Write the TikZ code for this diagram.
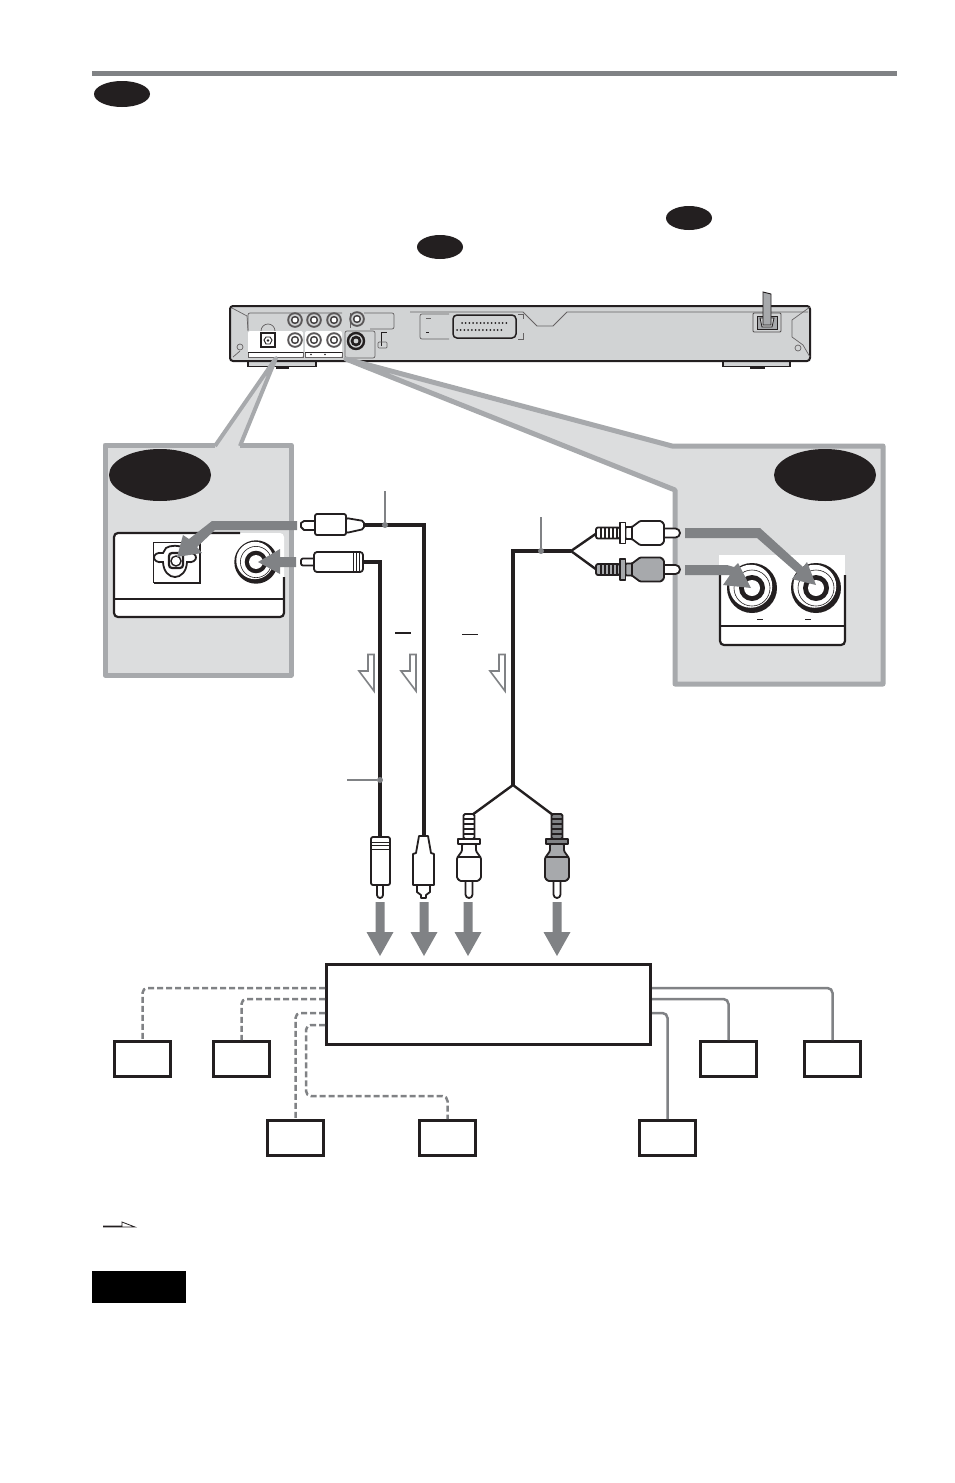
\documentclass[tikz,border=0pt]{standalone}
\definecolor{arr}{HTML}{808285}
\definecolor{lgr}{HTML}{DCDDDE}
\definecolor{bord}{HTML}{A7A9AC}
\definecolor{dev}{HTML}{D1D3D4}
\definecolor{ink}{HTML}{231F20}
\usetikzlibrary{shapes.geometric}
\tikzset{
 ibox/.style={draw=ink,line width=2.6pt,fill=white,inner sep=0pt,minimum width=56pt,minimum height=35pt},
 mainbox/.style={draw=ink,line width=2.8pt,fill=white,inner sep=0pt,minimum width=324pt,minimum height=80pt},
 pill/.style={ellipse,fill=ink,inner sep=0pt},
 dashcable/.style={draw=arr,line width=2.5pt,dash pattern=on 6pt off 3pt,rounded corners=5pt},
 solidcable/.style={draw=arr,line width=2.5pt,rounded corners=5pt},
 cable/.style={draw=ink,line width=3.6pt,line join=miter},
 thincable/.style={draw=ink,line width=2.4pt},
 plugline/.style={draw=ink,line width=1.8pt,line join=round},
 callout/.style={draw=arr,line width=1.1pt},
 cdot/.style={circle,fill=arr,inner sep=0pt,minimum size=6pt},
 bigarrow/.style={fill=arr,draw=none},
 hollow/.style={draw=arr,line width=1.6pt,fill=white,line join=miter},
}
% small device jack: centre x, y, ring colour
\newcommand{\devjack}[3]{%
 \fill[ink!75!white] (#1,#2) circle (7.8);
 \fill[#3] (#1,#2) circle (5.8);
 \fill[ink!85!white] (#1,#2) circle (4.2);
 \fill[white] (#1,#2) circle (2.4);
}
% large jack with heavy lower right rim
\newcommand{\bigjack}[3]{%
 \fill[ink] (#1,#2) circle (#3);
 \fill[white] (#1-0.05*#3,#2-0.07*#3) circle (0.86*#3);
 \draw[ink,line width=0.6pt] (#1,#2) circle (0.72*#3);
 \fill[ink] (#1,#2) circle (0.52*#3);
 \fill[white] (#1,#2) circle (0.32*#3);
}
\newcommand{\downarrowbig}[1]{%
 \fill[bigarrow] (#1-4.5,902) -- (#1+4.5,902) -- (#1+4.5,932) -- (#1+13.5,932) -- (#1,956) -- (#1-13.5,932) -- (#1-4.5,932) -- cycle;
}
\newcommand{\hollowarrow}[1]{%
 \draw[hollow] (#1+2,654.5) -- (#1+8,654.5) -- (#1+8,691) -- (#1-7,671) -- (#1+2,671) -- cycle;
}
% vertical plug: centre, body fill, relief fill
\newcommand{\vplug}[3]{%
 \begin{scope}[shift={(#1,0)}]
 \draw[plugline,fill=#3,rounded corners=1.5pt] (-5.5,814) -- (5.5,814) -- (5.5,839) -- (-5.5,839) -- cycle;
 \foreach \yy in {819,824,829,834} \draw[plugline,line width=1.5pt] (-5.5,\yy) -- (5.5,\yy);
 \draw[plugline,fill=white] (-3.5,880) -- (-3.5,894.5) arc[start angle=180,end angle=0,radius=3.5] -- (3.5,880);
 \draw[plugline,fill=#2,rounded corners=1pt] (-7,844) -- (-7,851) -- (-12,858) -- (-12,878) -- (-9,881) -- (9,881) -- (12,878) -- (12,858) -- (7,851) -- (7,844) -- cycle;
 \draw[plugline] (-11,857) -- (11,857);
 \draw[plugline,fill=#3] (-11,839) rectangle (11,844);
 \end{scope}
}
% horizontal plug: centre y, body fill, relief fill
\newcommand{\hplug}[3]{%
 \begin{scope}[shift={(0,#1)}]
 \draw[plugline,fill=#3,rounded corners=2pt] (596,-5.5) rectangle (620,5.5);
 \foreach \xx in {601,605,609,613,617} \draw[plugline,line width=1.5pt] (\xx,-5.5) -- (\xx,5.5);
 \draw[plugline,fill=white] (662,-4.5) -- (675.5,-4.5) arc[start angle=-90,end angle=90,radius=4.5] -- (662,4.5) -- cycle;
 \draw[plugline,fill=#2,rounded corners=1pt] (625.5,-6) -- (632,-6) -- (640,-12) -- (661,-12) -- (664,-9) -- (664,9) -- (661,12) -- (640,12) -- (632,6) -- (625.5,6) -- cycle;
 \draw[plugline,line width=1.2pt] (632,-6) -- (632,6);
 \draw[plugline,fill=#3] (620,-10.5) rectangle (625.5,10.5);
 \end{scope}
}
\begin{document}
\begin{tikzpicture}[x=1pt,y=-1pt]
\useasboundingbox (0,0) rectangle (954,1483);
\fill[white] (0,0) rectangle (954,1483);

% header
\draw[arr,line width=5pt] (92,73) -- (897,73);
\node[pill,minimum width=56pt,minimum height=26pt] (p1) at (122,94) {};
\node[pill,minimum width=46pt,minimum height=24pt] (p2) at (689,218) {};
\node[pill,minimum width=46pt,minimum height=24pt] (p3) at (440,247) {};

% device
\draw[ink,line width=1.6pt,fill=dev] (248,360) -- (248,366.5) -- (316,366.5) -- (316,360);
\draw[ink,line width=1.6pt,fill=dev] (723,360) -- (723,366.5) -- (790,366.5) -- (790,360);
\draw[ink,line width=2.2pt] (276,367.5) -- (289,367.5);
\draw[ink,line width=2.2pt] (750,367.5) -- (765,367.5);
\draw[ink,line width=2pt,fill=dev,rounded corners=3pt] (230,306) rectangle (810,361);
\draw[ink!70!white,line width=0.7pt] (232,308) -- (247,316) -- (248,330);
\draw[ink!70!white,line width=0.7pt] (233,357) -- (240,351);
\draw[ink!70!white,line width=0.7pt] (240,347) circle (3);
\draw[ink!70!white,line width=0.7pt] (810,307) -- (792,320) -- (792,337) -- (803,345) -- (810,357);
\draw[ink!70!white,line width=0.7pt] (798,348) circle (3);
\draw[ink!70!white,line width=0.7pt,rounded corners=2pt] (342,313) -- (248,313) -- (248,331);
\draw[ink!70!white,line width=0.7pt,rounded corners=2pt] (364,313) -- (394,313) -- (394,329) -- (370,329);
\draw[ink!70!white,line width=0.7pt] (261,331) arc[start angle=180,end angle=360,radius=7];
\fill[white,rounded corners=2pt] (248,331) rectangle (303,357);
\fill[white,rounded corners=2pt] (305,331) rectangle (342,357);
\draw[ink!70!white,line width=0.7pt] (248,352) -- (248,357) -- (303,357) -- (303,352);
\draw[ink!70!white,line width=0.7pt] (305,352) -- (305,357) -- (342,357) -- (342,352);
\draw[ink,line width=0.8pt] (248,352) -- (303,352);
\draw[ink,line width=0.8pt] (305,352) -- (342,352);
\draw[ink!70!white,line width=0.7pt,rounded corners=2pt] (345,331) rectangle (375,358);
\draw[ink!70!white,line width=0.8pt] (350,313) -- (350,328);
\devjack{295}{320}{dev}
\devjack{314}{320}{dev}
\devjack{334}{320}{dev}
\devjack{357}{319}{dev}
\devjack{295}{340}{white}
\devjack{314}{340}{white}
\devjack{334}{340}{white}
\draw[ink,line width=1.1pt,fill=white] (261,333) rectangle (275,347);
\draw[ink,line width=0.9pt] (264,340) -- (266,337) -- (270,337) -- (272,340) -- (270,344) -- (266,344) -- cycle;
\fill[ink] (268,340.5) circle (1.3);
\fill[ink] (311,354.5) circle (0.8);
\fill[ink] (325,354.5) circle (0.8);
\draw[ink,line width=2.4pt,fill=dev] (356,341) circle (8);
\fill[ink] (356,341) circle (5.4);
\fill[dev] (356,341) circle (2.4);
\draw[ink,line width=1pt] (381,346) -- (381,332) -- (387,332);
\draw[ink!70!white,line width=0.7pt,rounded corners=1pt] (378,342) rectangle (387,348);
\draw[ink!70!white,line width=0.7pt,rounded corners=2pt] (449,314) -- (420,314) -- (420,339) -- (449,339);
\draw[ink!70!white,line width=0.7pt] (426,318) -- (431,318);
\draw[ink,line width=1pt] (426,332) -- (429,332);
\draw[ink!70!white,line width=0.7pt] (518,314) -- (523,314) -- (523,319);
\draw[ink!70!white,line width=0.7pt] (523,333) -- (523,339) -- (518,339);
\draw[ink,line width=1.5pt,fill=dev,rounded corners=4pt] (453,315) rectangle (516,338);
\foreach \i in {0,...,12} \fill[ink] (462+\i*3.7,323) circle (1);
\foreach \i in {0,...,12} \fill[ink] (457+\i*3.7,330) circle (1);
\draw[ink!70!white,line width=0.8pt] (410,312) -- (523,312) -- (537,326) -- (553,326) -- (567,312) -- (808,312);

% power socket and cord
\draw[ink!80!white,line width=0.8pt,rounded corners=1pt] (753,313) rectangle (781,332);
\draw[ink,line width=1pt,fill=bord] (757,316) -- (777,316) -- (777,329) -- (757,329) -- cycle;
\draw[ink,line width=0.8pt,fill=dev] (760,318) -- (774,318) -- (772,327) -- (762,327) -- cycle;
\draw[ink,line width=0.9pt,fill=bord] (763,292) -- (771,294) -- (771,325) -- (763,325) -- cycle;

% insets
\fill[lgr] (105,445) rectangle (291,675);
\fill[lgr] (276,358) -- (215,447) -- (240,447) -- cycle;
\draw[bord,line width=5pt,line join=round] (215,445) -- (105,445) -- (105,675) -- (291,675) -- (291,445) -- (240,445);
\draw[bord,line width=4pt,line join=round] (215,446) -- (276,358) -- (240,446);

\fill[lgr] (346,359) -- (672,446) -- (883,446) -- (883,684) -- (675,684) -- (675,490) -- cycle;
\draw[bord,line width=5pt,line join=round] (346,359) -- (672,446) -- (883,446) -- (883,684) -- (675,684) -- (675,490) -- cycle;

\node[pill,minimum width=102pt,minimum height=52pt] (e1) at (160,475) {};
\node[pill,minimum width=102pt,minimum height=52pt] (e2) at (825,475) {};

% left panel
\fill[white,rounded corners=4pt] (114,533) rectangle (284,617);
\draw[ink,line width=2.2pt,rounded corners=4pt] (240,533) -- (114,533) -- (114,617) -- (284,617) -- (284,577);
\draw[ink,line width=2.4pt] (114,599) -- (284,599);
\draw[ink,line width=1pt] (153,542) rectangle (199,582);
\draw[ink,line width=1.6pt] (154,583) -- (200,583) -- (200,543);
\draw[ink,line width=1.8pt] (166,548) .. controls (170,545) and (180,545) .. (184,548) -- (187,553) .. controls (199,551) and (199,564) .. (187,562) .. controls (186,582) and (164,582) .. (163,562) .. controls (151,564) and (151,551) .. (163,553) -- cycle;
\draw[ink,line width=2.2pt,rounded corners=3pt] (169,553) rectangle (183,568);
\draw[ink,line width=1.4pt,fill=white] (176,561) circle (5);
\bigjack{256}{562}{21.7}

% right panel
\fill[white] (719,555) rectangle (845,628);
\fill[white,rounded corners=4pt] (719,600) rectangle (845,645);
\draw[ink,line width=2.2pt,rounded corners=4pt] (720,575) -- (720,645) -- (845,645) -- (845,575);
\draw[ink,line width=2.4pt] (720,626) -- (845,626);
\bigjack{752}{588}{25}
\bigjack{816}{588}{25}
\draw[ink,line width=1pt] (757,619) -- (763,619);
\draw[ink,line width=1pt] (805,619) -- (811,619);

% cables
\coordinate (ca1) at (364,525);
\coordinate (ca2) at (424,837);
\draw[cable] (ca1) -| (ca2);
\coordinate (cb1) at (363,562);
\coordinate (cb2) at (380,838);
\draw[cable] (cb1) -| (cb2);
\coordinate (yb) at (513,785);
\coordinate (yr) at (571,551);
\draw[cable] (yb) |- (yr);
\coordinate (pu) at (597,533);
\coordinate (pl) at (597,570);
\draw[thincable] (pu) -- (yr) -- (pl);
\coordinate (pc) at (472,815);
\coordinate (pd) at (553,815);
\draw[thincable] (pc) -- (yb) -- (pd);

% callouts
\coordinate (l1) at (385,491);
\node[cdot] (d1) at (385,525) {};
\draw[callout] (l1) -- (d1);
\coordinate (l2) at (541,517);
\node[cdot] (d2) at (541,551) {};
\draw[callout] (l2) -- (d2);
\coordinate (l3) at (347,780);
\node[cdot] (d3) at (380,780) {};
\draw[callout] (l3) -- (d3);

% top plugs
\draw[plugline,fill=white] (304,521) -- (301,523) -- (301,527) -- (304,530) -- (315,530) -- (315,521) -- cycle;
\draw[plugline,fill=white,rounded corners=2pt] (346,518) -- (364,521) -- (364,529) -- (346,533) -- cycle;
\draw[plugline,fill=white,rounded corners=2pt] (315,514) rectangle (346,535);
\draw[plugline,fill=white,rounded corners=2pt] (301,558.5) rectangle (315,565.5);
\draw[plugline,fill=white,rounded corners=3pt] (314,552) rectangle (363,572);
\draw[plugline,line width=.7pt] (353,552.5) -- (353,571.5) (356,552.5) -- (356,571.5) (359,552.5) -- (359,571.5);

\hplug{533}{white}{white}
\hplug{569.5}{bord}{bord}

% insert arrows
\fill[bigarrow] (297,521) -- (212,521) -- (189,539) -- (183,535) -- (177,557) -- (202,553) -- (197,547) -- (215,530) -- (297,530) -- cycle;
\fill[bigarrow] (296,557) -- (280,557) -- (280,549) -- (258,562) -- (280,574) -- (280,567) -- (296,567) -- cycle;
\fill[bigarrow] (685,528) -- (760,528) -- (803,567) -- (807,562) -- (816,585) -- (792,579) -- (797,573) -- (757,538) -- (685,538) -- cycle;
\fill[bigarrow] (685,565) -- (727,565) -- (734,567) -- (738,563) -- (751,588) -- (723,585) -- (730,575) -- (685,575) -- cycle;

% hollow arrows
\hollowarrow{366}
\hollowarrow{408}
\hollowarrow{497}
\draw[ink,line width=1.6pt] (395,633) -- (411,633);
\draw[ink,line width=1pt] (462,634) -- (478,634);

% bottom plugs
\draw[plugline,fill=white] (377,884) -- (377,895) arc[start angle=180,end angle=0,radius=3] -- (383,884);
\draw[plugline,fill=white,rounded corners=2pt] (371,837) rectangle (390,885);
\draw[plugline,line width=.8pt] (371,842) -- (390,842) (371,845) -- (390,845) (371,849) -- (390,849);
\draw[plugline,fill=white] (417,884) -- (417,892) -- (421,895) -- (421,898) -- (426,898) -- (426,895) -- (430,892) -- (430,884) -- cycle;
\draw[plugline,fill=white] (419,836) -- (428,836) -- (431,853) -- (434,854) -- (434,885) -- (413,885) -- (413,854) -- (416,853) -- cycle;
\vplug{469}{white}{white}
\vplug{557}{bord}{arr}

% big arrows
\downarrowbig{380}
\downarrowbig{424}
\downarrowbig{468}
\downarrowbig{557}

% box row
\node[mainbox] (m) at (488.5,1004.5) {};
\node[ibox] (b1) at (142.5,1059) {};
\node[ibox] (b2) at (241.5,1059) {};
\node[ibox] (b3) at (295.5,1138) {};
\node[ibox] (b4) at (447.5,1138) {};
\node[ibox] (b5) at (667.5,1138) {};
\node[ibox] (b6) at (728.5,1059) {};
\node[ibox] (b7) at (832.5,1059) {};
\coordinate (la) at (325,988);
\coordinate (lb) at (325,999);
\coordinate (lc) at (325,1013);
\coordinate (ld) at (325,1025);
\coordinate (ra) at (652,988);
\coordinate (rb) at (652,999);
\coordinate (rc) at (652,1013);
\coordinate (dm) at (306,1096);
\draw[dashcable] (la) -| (b1.north);
\draw[dashcable] (lb) -| (b2.north);
\draw[dashcable] (lc) -| (b3.north);
\draw[dashcable] (ld) -| (dm) -| (b4.north);
\draw[solidcable] (ra) -| (b7.north);
\draw[solidcable] (rb) -| (b6.north);
\draw[solidcable] (rc) -| (b5.north);

% legend
\draw[ink,line width=0.8pt] (103,1226) -- (122,1226) -- (122,1222) -- (135,1227) -- (103,1227);
\fill[black] (92,1271) rectangle (186,1303);
\end{tikzpicture}
\end{document}
